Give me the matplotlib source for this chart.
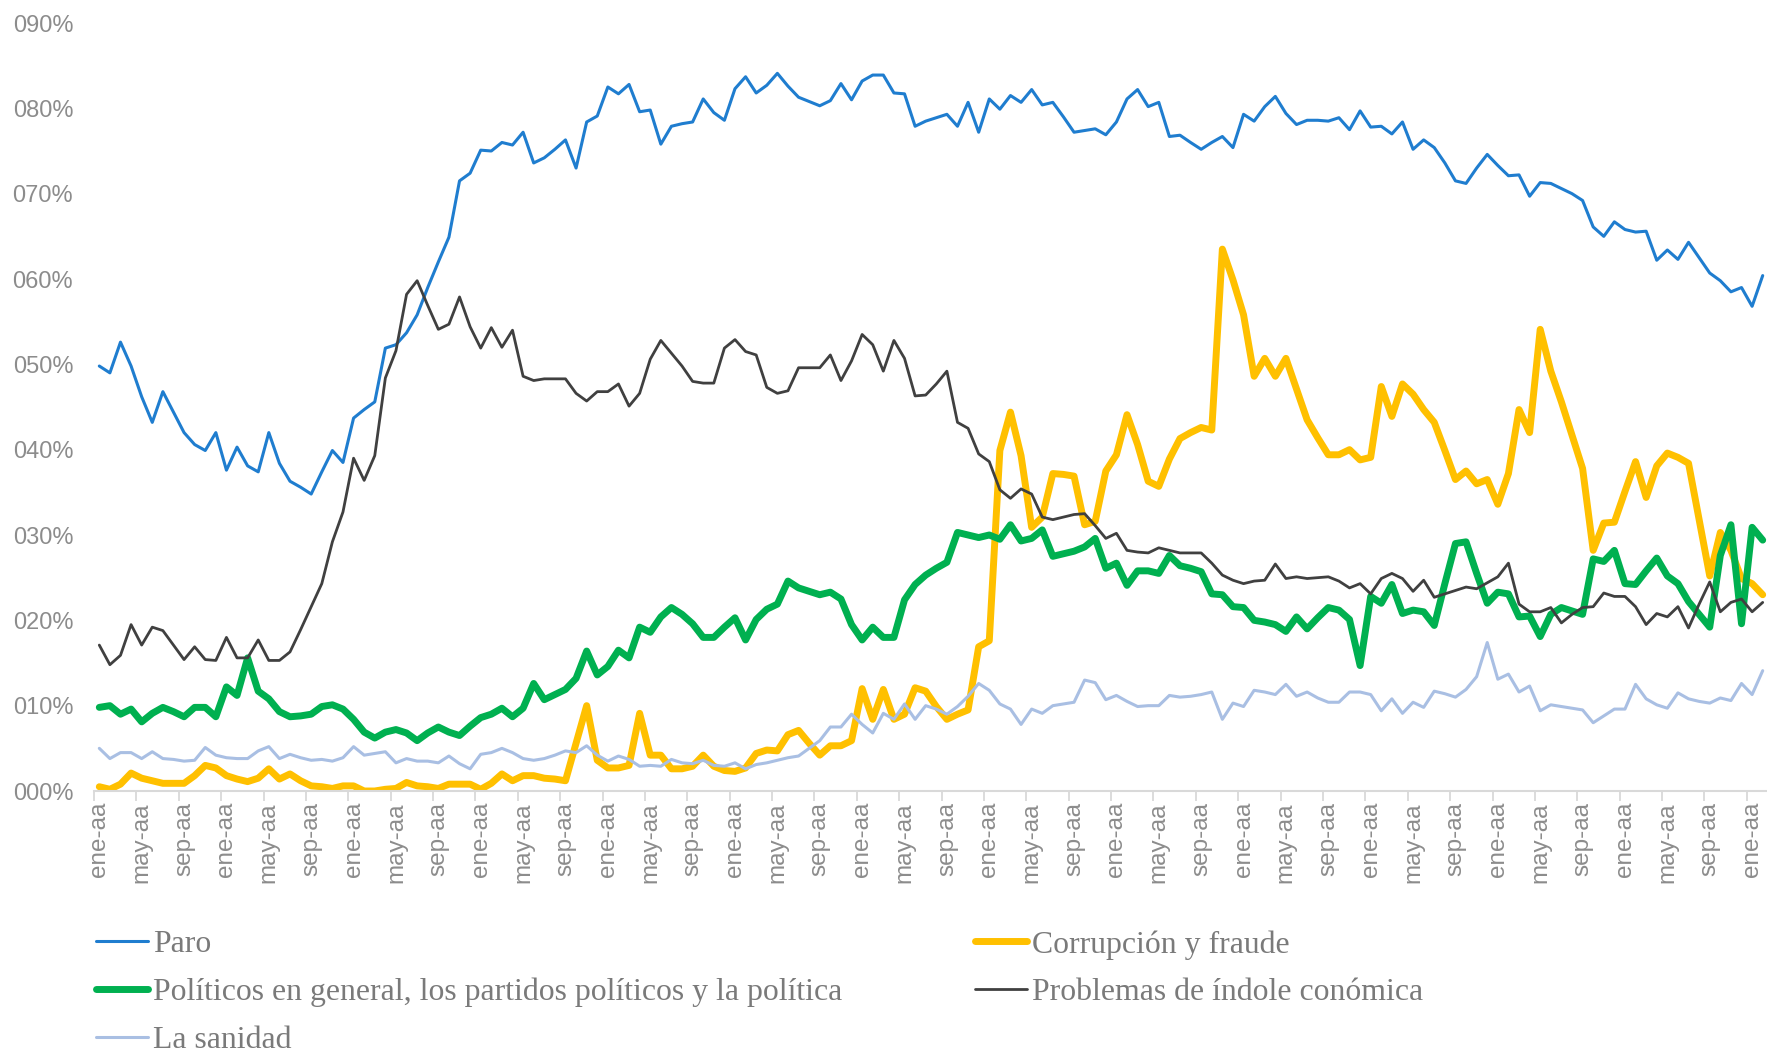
import matplotlib
matplotlib.use("Agg")
import matplotlib.pyplot as plt
import numpy as np

# ---------------- data (percent) ----------------
months_cycle = ["ene-aa", "may-aa", "sep-aa"]

paro = [49.8, 49.0, 52.6, 49.8, 46.2, 43.2, 46.8, 44.4, 42.0, 40.6, 39.9, 42.0, 37.6, 40.3, 38.1, 37.4,
        42.0, 38.4, 36.3, 35.6, 34.8, 37.4, 39.9, 38.5, 43.7, 44.7, 45.6, 51.9, 52.3, 53.7, 55.8, 59.0,
        62.0, 64.9, 71.5, 72.4, 75.1, 75.0, 76.0, 75.7, 77.2, 73.6, 74.2, 75.2, 76.3, 73.0, 78.4, 79.1,
        82.5, 81.7, 82.8, 79.6, 79.8, 75.8, 77.9, 78.2, 78.4, 81.1, 79.5, 78.6, 82.3, 83.7, 81.8, 82.7,
        84.1, 82.6, 81.3, 80.8, 80.3, 80.9, 82.9, 81.0, 83.2, 83.9, 83.9, 81.8, 81.7, 77.9, 78.5, 78.9,
        79.3, 77.9, 80.7, 77.2, 81.1, 79.9, 81.5, 80.7, 82.2, 80.4, 80.7, 79.0, 77.2, 77.4, 77.6, 76.9,
        78.4, 81.1, 82.2, 80.2, 80.7, 76.7, 76.85, 76.0, 75.2, 76.0, 76.7, 75.4, 79.3, 78.5, 80.2, 81.4,
        79.4, 78.1, 78.6, 78.6, 78.5, 78.9, 77.5, 79.7, 77.8, 77.9, 77.0, 78.4, 75.2, 76.3, 75.4, 73.6,
        71.5, 71.2, 73.0, 74.6, 73.3, 72.1, 72.2, 69.7, 71.3, 71.2, 70.6, 70.0, 69.2, 66.1, 65.0, 66.7,
        65.8, 65.5, 65.6, 62.2, 63.4, 62.3, 64.3, 62.5, 60.7, 59.8, 58.5, 59.0, 56.8, 60.4]

corrupcion = [0.5, 0.2, 0.8, 2.1, 1.5, 1.2, 0.9, 0.9, 0.9, 1.8, 3.0, 2.7, 1.8, 1.4, 1.1, 1.5,
              2.6, 1.4, 2.0, 1.2, 0.6, 0.5, 0.3, 0.6, 0.6, 0.0, 0.0, 0.2, 0.3, 1.0, 0.6, 0.5,
              0.3, 0.8, 0.8, 0.8, 0.2, 0.9, 2.0, 1.2, 1.8, 1.8, 1.5, 1.4, 1.2, 5.6, 10.0, 3.6,
              2.7, 2.7, 3.0, 9.1, 4.2, 4.2, 2.6, 2.6, 2.9, 4.2, 2.9, 2.4, 2.3, 2.7, 4.4, 4.8,
              4.7, 6.6, 7.1, 5.6, 4.2, 5.3, 5.3, 5.9, 12.0, 8.4, 11.9, 8.4, 9.0, 12.1, 11.7, 9.9,
              8.4, 9.0, 9.5, 16.9, 17.6, 39.9, 44.4, 39.3, 30.9, 32.1, 37.2, 37.1, 36.9, 31.2, 31.6, 37.5,
              39.4, 44.1, 40.6, 36.3, 35.7, 38.9, 41.3, 42.0, 42.6, 42.3, 63.5, 59.9, 55.8, 48.6, 50.7, 48.6,
              50.7, 47.1, 43.5, 41.4, 39.4, 39.4, 40.0, 38.8, 39.1, 47.4, 43.9, 47.7, 46.5, 44.7, 43.2, 39.9,
              36.5, 37.5, 36.0, 36.5, 33.6, 37.2, 44.7, 42.0, 54.1, 49.2, 45.6, 41.7, 37.8, 28.2, 31.4, 31.5,
              35.1, 38.6, 34.4, 38.1, 39.6, 39.1, 38.4, 31.8, 25.2, 30.3, 28.2, 24.9, 24.3, 23.0]

politicos = [9.8, 10.0, 9.0, 9.6, 8.1, 9.1, 9.8, 9.3, 8.7, 9.8, 9.8, 8.7, 12.2, 11.2, 15.6, 11.7,
             10.8, 9.3, 8.7, 8.8, 9.0, 9.9, 10.1, 9.6, 8.4, 6.9, 6.2, 6.9, 7.2, 6.8, 5.9, 6.8,
             7.5, 6.9, 6.5, 7.6, 8.6, 9.0, 9.7, 8.7, 9.7, 12.6, 10.7, 11.3, 11.9, 13.2, 16.4, 13.6,
             14.6, 16.5, 15.6, 19.2, 18.6, 20.4, 21.5, 20.7, 19.6, 18.0, 18.0, 19.2, 20.3, 17.7, 20.1, 21.3,
             21.9, 24.6, 23.8, 23.4, 23.0, 23.3, 22.5, 19.5, 17.7, 19.2, 18.0, 18.0, 22.4, 24.2, 25.3, 26.1,
             26.8, 30.3, 30.0, 29.7, 30.0, 29.5, 31.2, 29.3, 29.6, 30.6, 27.5, 27.8, 28.1, 28.6, 29.6, 26.1,
             26.7, 24.1, 25.8, 25.8, 25.5, 27.6, 26.4, 26.1, 25.7, 23.1, 23.0, 21.6, 21.5, 20.0, 19.8, 19.5,
             18.7, 20.4, 19.0, 20.3, 21.5, 21.2, 20.1, 14.7, 22.8, 22.0, 24.2, 20.8, 21.2, 21.0, 19.4, 24.3,
             29.0, 29.2, 25.5, 22.0, 23.3, 23.1, 20.4, 20.5, 18.1, 20.7, 21.5, 21.1, 20.7, 27.2, 26.9, 28.2,
             24.3, 24.2, 25.8, 27.3, 25.2, 24.3, 22.2, 20.7, 19.2, 27.6, 31.2, 19.6, 30.9, 29.4]

economica = [17.1, 14.8, 15.9, 19.5, 17.1, 19.2, 18.8, 17.1, 15.4, 16.9, 15.4, 15.3, 18.0, 15.6, 15.6, 17.7,
             15.3, 15.3, 16.3, 18.9, 21.6, 24.3, 29.2, 32.7, 39.0, 36.4, 39.3, 48.4, 51.6, 58.2, 59.8, 56.9,
             54.1, 54.7, 57.9, 54.4, 51.9, 54.3, 52.0, 54.0, 48.6, 48.1, 48.3, 48.3, 48.3, 46.6, 45.7, 46.8,
             46.8, 47.7, 45.1, 46.6, 50.6, 52.8, 51.3, 49.8, 48.0, 47.8, 47.8, 51.9, 52.9, 51.5, 51.1, 47.3,
             46.6, 46.9, 49.6, 49.6, 49.6, 51.1, 48.1, 50.4, 53.5, 52.3, 49.2, 52.8, 50.7, 46.3, 46.4, 47.7,
             49.2, 43.2, 42.5, 39.5, 38.6, 35.3, 34.3, 35.4, 34.8, 32.1, 31.8, 32.1, 32.4, 32.5, 31.1, 29.6,
             30.2, 28.2, 28.0, 27.9, 28.5, 28.2, 27.9, 27.9, 27.9, 26.7, 25.3, 24.7, 24.3, 24.6, 24.7, 26.6,
             24.9, 25.1, 24.9, 25.0, 25.1, 24.6, 23.8, 24.3, 23.1, 24.9, 25.5, 24.9, 23.4, 24.7, 22.7, 23.1,
             23.5, 23.9, 23.7, 24.4, 25.1, 26.7, 21.9, 21.0, 21.0, 21.5, 19.7, 20.7, 21.5, 21.6, 23.2, 22.8,
             22.8, 21.6, 19.5, 20.8, 20.4, 21.6, 19.1, 21.9, 24.5, 21.0, 22.1, 22.5, 21.0, 22.1]

sanidad = [5.0, 3.8, 4.5, 4.5, 3.8, 4.6, 3.8, 3.7, 3.5, 3.6, 5.1, 4.2, 3.9, 3.8, 3.8, 4.7,
           5.2, 3.8, 4.3, 3.9, 3.6, 3.7, 3.5, 3.9, 5.2, 4.2, 4.4, 4.6, 3.3, 3.8, 3.5, 3.5,
           3.3, 4.1, 3.2, 2.6, 4.3, 4.5, 5.0, 4.5, 3.8, 3.6, 3.8, 4.2, 4.7, 4.5, 5.3, 4.2,
           3.5, 4.1, 3.7, 2.9, 3.0, 2.9, 3.7, 3.3, 3.2, 3.6, 3.0, 2.9, 3.3, 2.6, 3.1, 3.3,
           3.6, 3.9, 4.1, 5.0, 5.9, 7.5, 7.5, 9.0, 7.8, 6.8, 9.1, 8.4, 10.2, 8.4, 10.0, 9.6,
           9.0, 9.9, 11.1, 12.6, 11.8, 10.2, 9.6, 7.8, 9.6, 9.1, 10.0, 10.2, 10.4, 13.0, 12.7, 10.7,
           11.2, 10.5, 9.9, 10.0, 10.0, 11.2, 11.0, 11.1, 11.3, 11.6, 8.4, 10.3, 9.9, 11.8, 11.6, 11.3,
           12.5, 11.1, 11.6, 10.9, 10.4, 10.4, 11.6, 11.6, 11.3, 9.4, 10.8, 9.1, 10.4, 9.8, 11.7, 11.4,
           11.0, 11.9, 13.4, 17.4, 13.1, 13.7, 11.6, 12.3, 9.4, 10.1, 9.9, 9.7, 9.5, 8.0, 8.8, 9.6,
           9.6, 12.5, 10.8, 10.1, 9.7, 11.5, 10.8, 10.5, 10.3, 10.9, 10.6, 12.6, 11.3, 14.1]

labels = ["Paro", "Corrupción y fraude",
          "Políticos en general, los partidos políticos y la política",
          "Problemas de índole conómica", "La sanidad"]
y_ticks = [0, 10, 20, 30, 40, 50, 60, 70, 80, 90]

# ---------------- figure ----------------
W, H = 1767, 1054
fig = plt.figure(figsize=(W / 100, H / 100), dpi=100)
left, right, top, bottom = 94, 1768, 23, 791
ax = fig.add_axes([left / W, 1 - bottom / H, (right - left) / W, (bottom - top) / H])

n = len(paro)
x = np.arange(n)

series = [
    (paro, "#1F7DCF", 2.2),
    (corrupcion, "#FFC000", 5.0),
    (politicos, "#00B050", 5.0),
    (economica, "#404040", 2.0),
    (sanidad, "#A9BFE3", 2.2),
]
handles = []
for (vals, col, lw), lab in zip(series, labels):
    h, = ax.plot(x, vals, color=col, lw=lw, solid_joinstyle="round",
                 solid_capstyle="round", label=lab)
    handles.append(h)

ax.set_xlim(-0.5, n - 0.5)
ax.set_ylim(0, 90)

tick_col = "#8C8C8C"
sans = ["Liberation Sans", "DejaVu Sans"]
serif = ["Liberation Serif", "DejaVu Serif"]

ax.set_yticks(y_ticks)
ax.set_yticklabels([f"{v:03d}%" for v in y_ticks], fontsize=17, color=tick_col, family=sans)
ax.tick_params(axis="y", length=0, pad=15)

label_pos = np.arange(0, n, 4)
ax.set_xticks(label_pos)
ax.set_xticklabels([months_cycle[(p // 4) % 3] for p in label_pos], rotation=90,
                   fontsize=17.5, color=tick_col, family=sans, va="top", ha="center")
ax.tick_params(axis="x", which="major", length=0, pad=8)
ax.set_xticks(np.arange(-0.5, n, 4), minor=True)
ax.tick_params(axis="x", which="minor", length=7, width=1.3, color="#D9D9D9", direction="out")

for s in ["left", "right", "top"]:
    ax.spines[s].set_visible(False)
ax.spines["bottom"].set_color("#D9D9D9")
ax.spines["bottom"].set_linewidth(1.5)
ax.grid(False)

order = [0, 2, 4, 1, 3]
leg = fig.legend([handles[i] for i in order], [labels[i] for i in order],
                 ncol=2, loc="upper left",
                 bbox_to_anchor=(96 / W, 1 - 930 / H),
                 frameon=False, borderaxespad=0, borderpad=0,
                 handlelength=1.62, handletextpad=0.16, columnspacing=4.19,
                 labelspacing=0.58, prop={"family": serif, "size": 22.9})
for t in leg.get_texts():
    t.set_color("#7A7A7A")

fig.savefig("out.png", dpi=100)
